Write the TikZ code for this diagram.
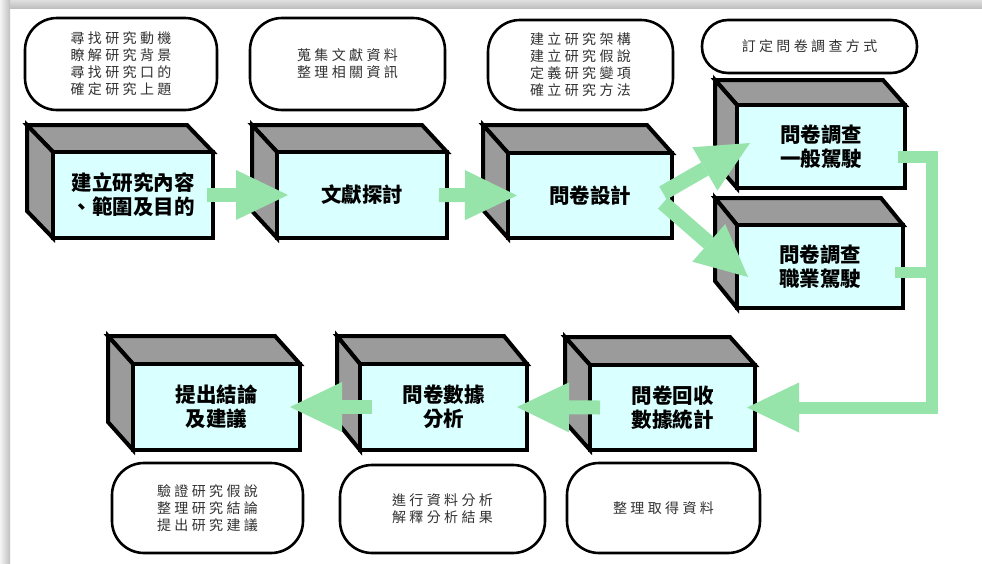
\documentclass[tikz,border=0pt]{standalone}
\usepackage{fontspec}
\newfontfamily\boxfont{Noto Sans CJK TC}
\newfontfamily\bubfont[LetterSpace=24]{Noto Sans CJK TC}
\usetikzlibrary{arrows.meta,calc}
\definecolor{facegray}{RGB}{155,155,155}
\definecolor{frontcyan}{RGB}{217,255,255}
\definecolor{arrowgreen}{RGB}{150,228,170}
\definecolor{bubtext}{RGB}{50,50,50}
\tikzset{
  face/.style={draw=black, fill=facegray, line width=4pt, line join=miter},
  front/.style={draw=black, fill=frontcyan, line width=4pt, inner sep=0pt, outer sep=0pt,
    align=center, text=black, font=\boxfont\bfseries\fontsize{20.5}{24}\selectfont},
  bubble/.style={draw=black, fill=white, line width=2.6pt, rounded corners=32pt, inner sep=0pt,
    outer sep=0pt, align=center, text=bubtext, font=\bubfont\fontsize{14}{17}\selectfont},
  garrow/.style={draw=arrowgreen, line width=14pt,
    -{Triangle[length=52pt,width=50pt,line width=0pt]}},
  gline/.style={draw=arrowgreen, line width=11pt}
}
\newcommand\cubebox[8]{%
  \draw[face] (#2,#3) -- ++(-#6,-#7) -- ++(#4-#2,0) -- (#4,#3) -- cycle;
  \draw[face] (#2,#3) -- ++(-#6,-#7) -- ++(0,#5-#3) -- (#2,#5) -- cycle;
  \node[front, minimum width={#4-#2}, minimum height={#5-#3}] (#1) at ({(#2+#4)/2},{(#3+#5)/2}) {#8};
}
\begin{document}
\begin{tikzpicture}[x=1pt,y=-1pt]
\useasboundingbox (0,0) rectangle (982,563);
\fill[white] (0,0) rectangle (982,563);
\shade[top color=gray!25, bottom color=gray!50] (0,0) rectangle (982,8);
\shade[left color=gray!8, right color=gray!50] (0,0) rectangle (10,563);

% bubbles
\node[bubble, minimum width=192, minimum height=92] (t1) at (121,64)
  {尋找研究動機\\瞭解研究背景\\尋找研究口的\\確定研究上題};
\node[bubble, minimum width=195, minimum height=92] (t2) at (347.5,64)
  {蒐集文獻資料\\整理相關資訊};
\node[bubble, minimum width=185, minimum height=90] (t3) at (580.5,65)
  {建立研究架構\\建立研究假說\\定義研究變項\\確立研究方法};
\node[bubble, rounded corners=26pt, minimum width=215, minimum height=53] (t4) at (809.5,46.5)
  {訂定問卷調查方式};
\node[bubble, minimum width=191, minimum height=90] (t8) at (207.5,508)
  {驗證研究假說\\整理研究結論\\提出研究建議};
\node[bubble, minimum width=205, minimum height=88] (t7) at (442.5,509)
  {進行資料分析\\解釋分析結果};
\node[bubble, minimum width=193, minimum height=90] (t6) at (663.5,508)
  {整理取得資料};

% cubes
\cubebox{b1}{53}{152}{213}{238}{26}{27}{建立研究內容\\、範圍及目的}
\cubebox{b2}{277}{152}{447}{238}{25}{27}{文獻探討}
\cubebox{b3}{508}{153}{672}{238}{25}{28}{問卷設計}
\cubebox{b5}{737}{225}{903}{308}{22}{27}{問卷調查\\職業駕駛}
\cubebox{b4}{737}{105}{905}{188}{22}{25}{問卷調查\\一般駕駛}
\cubebox{b6}{590}{365}{755}{450}{25}{28}{問卷回收\\數據統計}
\cubebox{b7}{360}{364}{527}{450}{23}{28}{問卷數據\\分析}
\cubebox{b8}{133}{364}{300}{450}{25}{28}{提出結論\\及建議}

% connectors
\coordinate (j1) at (932,407.5);
\coordinate (j2) at (932,272);
\draw[garrow] ([xshift=-6pt]b1.east) -- ([xshift=11pt]b2.west);
\draw[garrow] ([xshift=-8pt]b2.east) -- ([xshift=9pt]b3.west);
\draw[garrow, line width=15pt] ([shift={(-9pt,2.5pt)}]b3.east) -- ([shift={(13pt,3.5pt)}]b4.west);
\draw[garrow, line width=15pt] ([shift={(-9pt,-7.5pt)}]b3.east) -- ([shift={(11pt,-10.5pt)}]b5.west);
\draw[gline] ([shift={(-8pt,-5.5pt)}]b5.east) -- (j2);
\draw[garrow, line width=12pt] ([shift={(-7pt,-10.5pt)}]b4.east) -| (j1) -- ([xshift=-8pt]b6.east);
\draw[garrow] ([xshift=10pt]b6.west) -- ([xshift=-10pt]b7.east);
\draw[garrow] ([xshift=12pt]b7.west) -- ([xshift=-10pt]b8.east);
\end{tikzpicture}
\end{document}
